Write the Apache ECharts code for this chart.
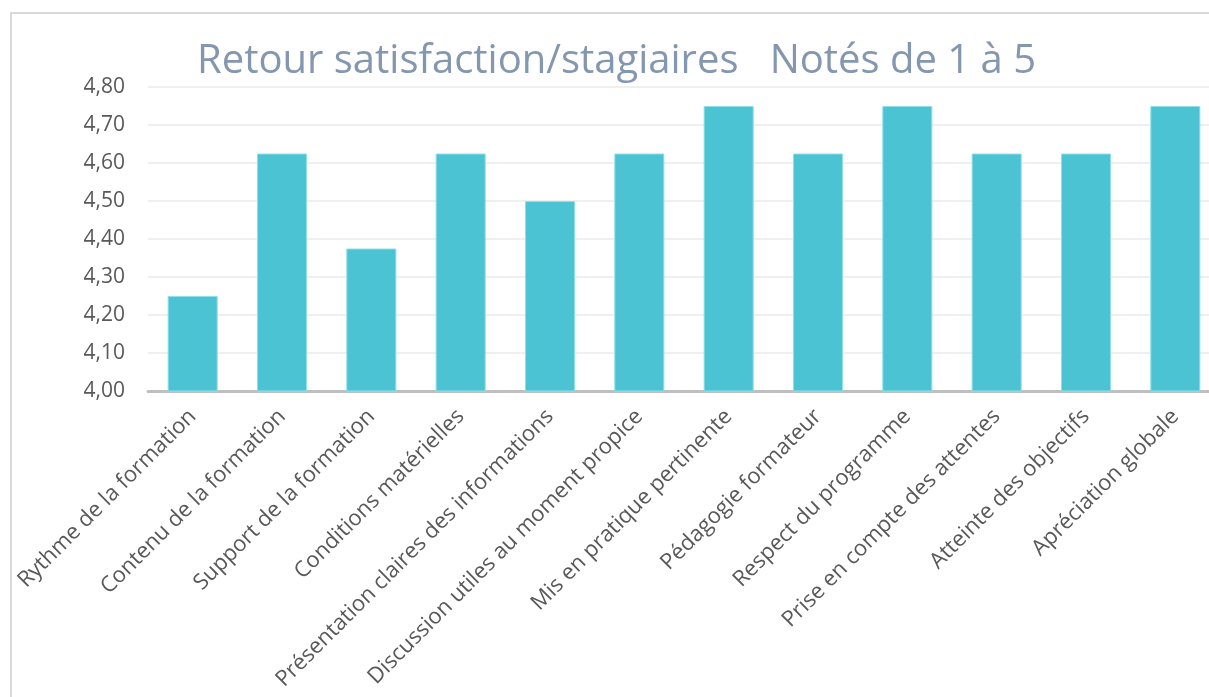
<!DOCTYPE html>
<html>
<head>
<meta charset="utf-8">
<script src="https://cdn.jsdelivr.net/npm/echarts@6/dist/echarts.min.js"></script>
<style>
  html, body { margin: 0; padding: 0; background: #fff; overflow: hidden; width: 1209px; height: 697px; }
  #frame { position: absolute; left: 10px; top: 12px; width: 1300px; height: 800px; border-left: 2px solid #d9d9d9; border-top: 2px solid #d9d9d9; }
  #chart { position: absolute; left: 0; top: 0; width: 1230px; height: 697px; }
</style>
</head>
<body>
<div id="frame"></div>
<div id="chart"></div>
<script>
// catégories et notes moyennes
var categories = [
  'Rythme de la formation', 'Contenu de la formation', 'Support de la formation',
  'Conditions matérielles', 'Présentation claires des informations',
  'Discussion utiles au moment propice', 'Mis en pratique pertinente',
  'Pédagogie formateur', 'Respect du programme', 'Prise en compte des attentes',
  'Atteinte des objectifs', 'Apréciation globale'
];
var notes = [4.25, 4.625, 4.375, 4.625, 4.5, 4.625, 4.75, 4.625, 4.75, 4.625, 4.625, 4.75];
var yMin = 4.0, yMax = 4.8, yStep = 0.1;

var chart = echarts.init(document.getElementById('chart'));
var option = {
  backgroundColor: 'transparent',
  textStyle: { fontFamily: 'Open Sans' },
  title: {
    text: 'Retour satisfaction/stagiaires   Notés de 1 à 5',
    left: 192,
    top: 37,
    textStyle: { color: '#8497b0', fontSize: 40, fontWeight: 'normal', fontFamily: 'Open Sans' }
  },
  grid: { left: 148, right: 10, top: 87, bottom: 306 },
  xAxis: {
    type: 'category',
    data: categories,
    axisLine: { lineStyle: { color: '#bfbfbf', width: 3 } },
    axisTick: { show: false },
    axisLabel: { rotate: 45, interval: 0, margin: 22, color: '#595959', fontSize: 22 }
  },
  yAxis: {
    type: 'value',
    min: yMin, max: yMax, interval: yStep,
    axisLine: { show: false },
    axisTick: { show: false },
    splitLine: { lineStyle: { color: '#efefef', width: 2 } },
    axisLabel: {
      color: '#595959', fontSize: 21, margin: 23,
      formatter: function (v) { return v.toFixed(2).replace('.', ','); }
    }
  },
  series: [{
    type: 'bar',
    data: notes,
    barWidth: '56%',
    itemStyle: { color: '#4bc3d2', borderColor: '#8ee0ea', borderWidth: 1 },
    silent: true
  }]
};
chart.setOption(option);
window.addEventListener('resize', function () { chart.resize(); });
</script>
</body>
</html>
